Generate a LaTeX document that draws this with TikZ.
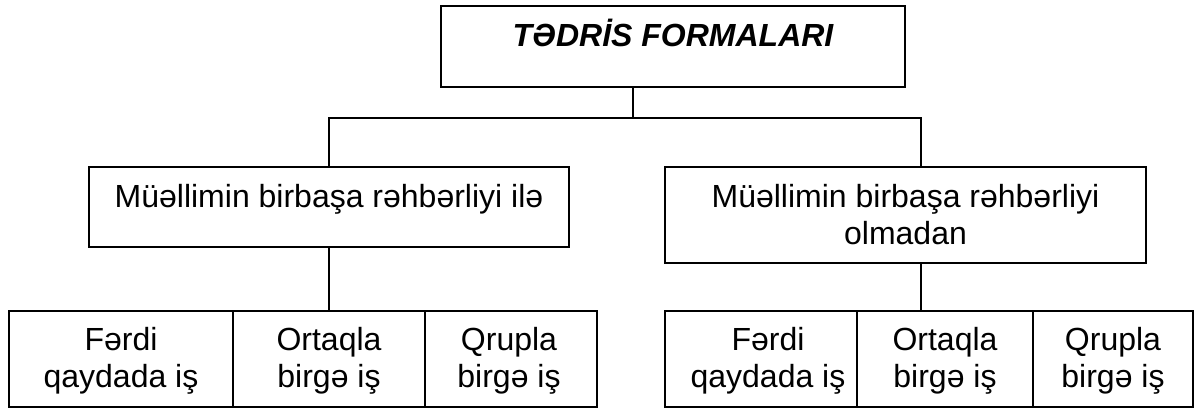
\documentclass[tikz,border=0pt]{standalone}
\usepackage{fontspec}
\setmainfont{Liberation Sans}
\begin{document}
\begin{tikzpicture}[x=1pt,y=-1pt,
  box/.style={draw=black,line width=1.5pt,rectangle,inner sep=0pt},
  txt/.style={anchor=base,inner sep=0pt,align=center,font=\fontsize{32}{37}\selectfont},
  wire/.style={draw=black,line width=1.5pt}]
\useasboundingbox (0,0) rectangle (1195,408);
% top
\node[box,minimum width=464pt,minimum height=81pt] (top) at (673,46.5) {};
\node[txt,font=\fontsize{32}{37}\selectfont\bfseries\itshape] (topt) at (673,46) {TƏDRİS FORMALARI};
% middle
\node[box,minimum width=480pt,minimum height=80pt] (lm) at (329,207) {};
\node[txt] (lmt) at (329,207) {Müəllimin birbaşa rəhbərliyi ilə};
\node[box,minimum width=481pt,minimum height=96pt] (rm) at (905.5,215) {};
\node[txt,anchor=north] (rmt) at (905.5,183.7) {Müəllimin birbaşa rəhbərliyi\\olmadan};
% bottom left
\node[box,minimum width=224pt,minimum height=96pt] (l1) at (121,359) {};
\node[box,minimum width=192pt,minimum height=96pt] (l2) at (329,359) {};
\node[box,minimum width=172pt,minimum height=96pt] (l3) at (511,359) {};
\node[txt,anchor=north] (l1t) at (121,327.5) {Fərdi\\qaydada iş};
\node[txt,anchor=north] (l2t) at (329,327.5) {Ortaqla\\birgə iş};
\node[txt,anchor=north] (l3t) at (509,327.5) {Qrupla\\birgə iş};
% bottom right
\node[box,minimum width=192pt,minimum height=96pt] (r1) at (761,359) {};
\node[box,minimum width=176pt,minimum height=96pt] (r2) at (945,359) {};
\node[box,minimum width=160pt,minimum height=96pt] (r3) at (1113,359) {};
\node[txt,anchor=north] (r1t) at (768,327.5) {Fərdi\\qaydada iş};
\node[txt,anchor=north] (r2t) at (945,327.5) {Ortaqla\\birgə iş};
\node[txt,anchor=north] (r3t) at (1113,327.5) {Qrupla\\birgə iş};
% connectors
\coordinate (jt) at (633,118);
\coordinate (jr) at (921,118);
\draw[wire] (top.south -| jt) -- (jt);
\draw[wire] (lm.north) |- (jr) -- (jr |- rm.north);
\draw[wire] (lm.south) -- (l2.north);
\draw[wire] (jr |- rm.south) -- (jr |- r2.north);
\end{tikzpicture}
\end{document}
